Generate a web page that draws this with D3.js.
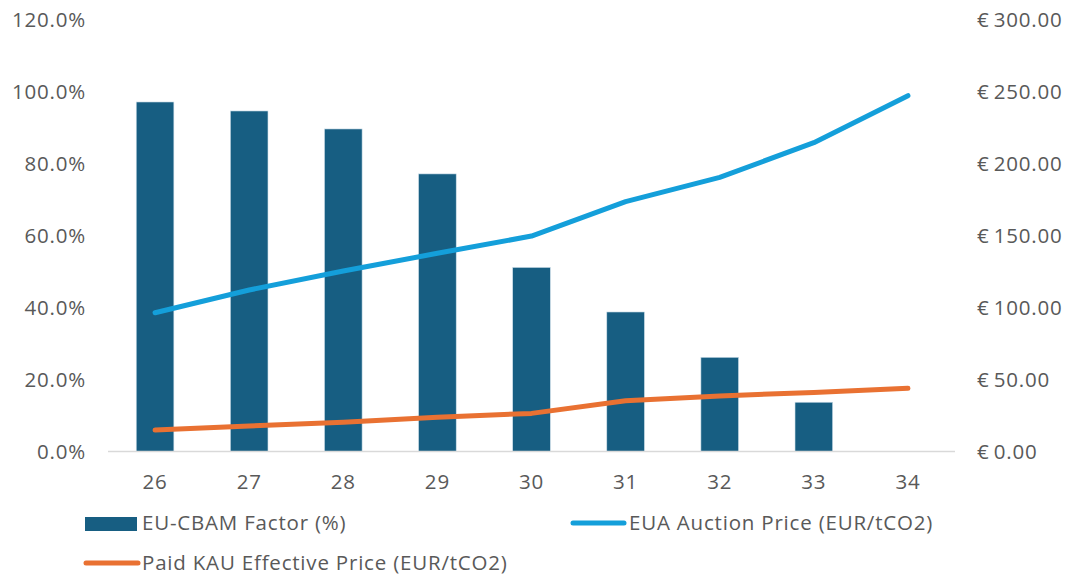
<!DOCTYPE html>
<html>
<head>
<meta charset="utf-8">
<script src="https://cdn.jsdelivr.net/npm/d3@7"></script>
<style>
  html, body { margin: 0; padding: 0; background: #fff; }
  svg { display: block; font-family: "Open Sans", "Liberation Sans", sans-serif; }
  svg text { font-size: 20.5px; letter-spacing: 0.8px; }
</style>
</head>
<body>
<svg id="chart" width="1078" height="575"></svg>
<script>
const years = ["26", "27", "28", "29", "30", "31", "32", "33", "34"];
const cbamFactor = [97.2, 94.7, 89.7, 77.2, 51.2, 38.8, 26.2, 13.7, 0];
const euaPrice = [96.5, 112.3, 125.5, 137.8, 149.8, 173.7, 190.6, 214.7, 247.4];
const kauPrice = [14.9, 17.7, 20.3, 23.8, 26.5, 35.3, 38.6, 41.1, 43.9];
const leftTicks = [0, 20, 40, 60, 80, 100, 120];
const rightTicks = [0, 50, 100, 150, 200, 250, 300];
const seriesNames = ["EU-CBAM Factor (%)", "EUA Auction Price (EUR/tCO2)", "Paid KAU Effective Price (EUR/tCO2)"];

const colors = { bar: "#175e82", eua: "#149fda", kau: "#e97132", text: "#595959", axis: "#d9d9d9" };

const svg = d3.select("#chart");
const plot = { left: 108, right: 955, top: 20, bottom: 451.5 };

const x = d3.scaleBand().domain(years).range([plot.left, plot.right]).paddingInner(0.6).paddingOuter(0.3);
const yL = d3.scaleLinear().domain([0, 120]).range([plot.bottom, plot.top]);
const yR = d3.scaleLinear().domain([0, 300]).range([plot.bottom, plot.top]);
const xc = d => x(d) + x.bandwidth() / 2;

// bars
svg.append("g").selectAll("rect").data(years.map((y, i) => ({ y, v: cbamFactor[i] })).filter(d => d.v > 0))
  .join("rect")
  .attr("x", d => x(d.y))
  .attr("y", d => yL(d.v))
  .attr("width", x.bandwidth())
  .attr("height", d => yL(0) - yL(d.v))
  .attr("fill", colors.bar)
  .attr("stroke", "#cfe0ea").attr("stroke-width", 0.6);

// x axis baseline
const xAxis = svg.append("g").attr("transform", `translate(0,${plot.bottom})`)
  .call(d3.axisBottom(x).tickSize(0).tickPadding(23));
xAxis.select(".domain").attr("stroke", colors.axis).attr("stroke-width", 1.5)
  .attr("d", `M${plot.left},0H${plot.right}`);
xAxis.selectAll("text").attr("fill", colors.text);

// left axis
const lAxis = svg.append("g").attr("transform", `translate(${plot.left - 22},0)`)
  .call(d3.axisLeft(yL).tickValues(leftTicks).tickSize(0).tickPadding(0).tickFormat(d => d.toFixed(1) + "%"));
lAxis.select(".domain").remove();
lAxis.selectAll("text").attr("fill", colors.text);

// right axis
const rAxis = svg.append("g").attr("transform", `translate(${plot.right + 22},0)`)
  .call(d3.axisRight(yR).tickValues(rightTicks).tickSize(0).tickPadding(0).tickFormat(d => "€\u2009" + d.toFixed(2)));
rAxis.select(".domain").remove();
rAxis.selectAll("text").attr("fill", colors.text);

svg.selectAll("g").attr("font-family", null).attr("font-size", null);

// lines
const line = yScale => d3.line().x((d, i) => xc(years[i])).y(d => yScale(d));
svg.append("path").datum(euaPrice).attr("d", line(yR)).attr("fill", "none")
  .attr("stroke", colors.eua).attr("stroke-width", 5).attr("stroke-linecap", "round").attr("stroke-linejoin", "round");
svg.append("path").datum(kauPrice).attr("d", line(yR)).attr("fill", "none")
  .attr("stroke", colors.kau).attr("stroke-width", 5).attr("stroke-linecap", "round").attr("stroke-linejoin", "round");

// legend
const lg = svg.append("g").attr("fill", colors.text);
lg.append("rect").attr("x", 85).attr("y", 517).attr("width", 52).attr("height", 14).attr("fill", colors.bar);
lg.append("text").attr("x", 142).attr("y", 523).attr("dy", "0.35em").text(seriesNames[0]);
lg.append("line").attr("x1", 573).attr("x2", 624).attr("y1", 523).attr("y2", 523)
  .attr("stroke", colors.eua).attr("stroke-width", 5).attr("stroke-linecap", "round");
lg.append("text").attr("x", 629).attr("y", 523).attr("dy", "0.35em").text(seriesNames[1]);
lg.append("line").attr("x1", 86).attr("x2", 138).attr("y1", 563).attr("y2", 563)
  .attr("stroke", colors.kau).attr("stroke-width", 5).attr("stroke-linecap", "round");
lg.append("text").attr("x", 142).attr("y", 563).attr("dy", "0.35em").text(seriesNames[2]);
</script>
</body>
</html>
